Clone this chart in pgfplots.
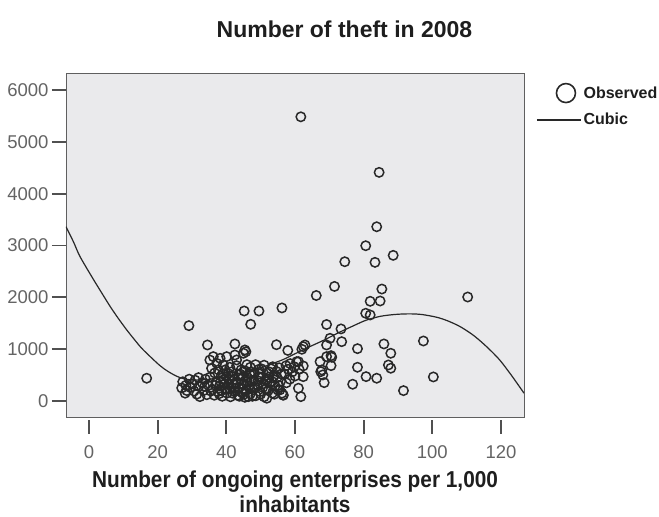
\documentclass[border=0pt]{standalone}
\usepackage{pgfplots}
\pgfplotsset{compat=1.18}
\usepackage{fontspec}
\setmainfont{Liberation Sans}
\newfontfamily\narrowsans[FakeStretch=0.905]{Liberation Sans}

\definecolor{bgc}{RGB}{234,234,236}
\definecolor{framec}{RGB}{95,95,95}
\definecolor{tickc}{RGB}{80,80,80}
\definecolor{labc}{RGB}{100,100,100}
\definecolor{markc}{RGB}{40,40,40}
\definecolor{txtc}{RGB}{30,30,30}

% observed values (enterprises per 1,000 inhabitants, thefts)
\pgfplotstableread{
x y
61.7 5484
84.5 4412
83.8 3362
80.6 2996
88.6 2810
74.5 2687
83.3 2675
71.5 2210
85.3 2160
66.2 2035
110.3 2006
81.9 1923
84.8 1929
56.2 1795
80.6 1692
81.9 1659
69.2 1475
73.4 1390
70.2 1209
73.6 1144
62.9 1080
62.4 1048
62.0 997
67.3 758
70.5 874
70.7 843
70.5 681
62.4 675
62.4 469
67.5 565
68.1 502
68.5 353
61.0 245
61.7 83
78.2 1009
78.2 650
76.8 322
80.7 469
83.8 438
85.9 1100
87.9 920
87.2 694
87.9 631
91.6 199
97.4 1157
100.3 463
69.2 855
69.2 1080
67.8 598
61.0 758
16.8 438
29.1 1453
34.5 1080
42.5 1100
45.4 984
45.7 950
45.2 1736
49.5 1736
47.1 1479
54.6 1085
57.9 975
27.3 370
27.0 250
28.2 300
28.5 200
28.0 150
29.2 420
29.5 260
30.1 330
30.6 190
30.9 400
31.4 130
31.9 450
32.3 83
32.0 280
33.0 350
33.4 200
33.9 420
34.3 120
34.8 300
35.3 460
35.2 790
35.7 630
36.2 855
36.6 540
37.2 727
37.7 598
38.2 823
38.5 480
39.1 694
39.6 598
40.1 855
40.5 530
41.0 650
42.5 887
43.0 791
45.0 920
44.3 600
46.0 700
36.0 220
36.5 110
37.0 370
37.5 180
38.0 290
38.8 90
39.2 410
39.7 240
40.2 150
40.7 340
41.2 80
41.6 260
42.0 470
42.4 180
42.9 360
43.3 110
43.7 250
44.1 420
44.6 160
45.0 320
45.4 70
45.8 210
46.2 450
46.6 290
47.0 140
47.4 380
47.8 220
48.2 540
48.6 100
49.0 310
49.4 460
49.8 180
50.2 620
50.6 260
51.0 80
51.4 400
51.8 540
52.2 200
52.6 340
53.0 620
53.4 150
53.8 470
54.2 290
54.6 570
55.0 210
55.4 640
55.8 380
56.2 150
56.6 110
55.6 212
56.5 116
46.4 83
51.8 52
57.0 520
57.4 680
58.0 610
58.6 720
59.2 560
59.8 660
60.5 758
61.2 610
60.0 480
58.5 420
57.5 350
44.0 520
45.5 580
47.0 650
48.5 700
49.5 610
51.0 690
52.5 560
53.5 660
43.0 680
41.5 560
40.0 470
39.0 520
46.8 520
50.0 460
48.0 400
44.8 230
42.2 320
38.6 200
36.8 300
38.3 380
39.5 330
40.8 420
41.8 150
42.7 250
43.5 500
44.4 330
45.2 130
46.0 380
46.9 240
47.6 90
48.4 260
49.2 390
50.0 130
50.8 330
51.6 230
52.4 460
53.2 380
54.0 130
54.8 450
55.3 300
56.0 520
44.9 470
47.2 560
49.7 520
52.0 420
43.8 90
41.0 230
37.9 140
35.5 190
33.7 280
}\observed

% cubic fit
\pgfplotstableread{
x y
-6.7 3363
-4.5 3067
-2.6 2784
1.25 2350
3.5 2107
6.1 1830
8.5 1596
11 1370
13 1203
15.3 1020
18 845
20.7 680
23 570
25.5 478
27.5 430
30 405
33 408
36 428
40 470
45 550
50 640
53 710
56.6 800
60 910
63.4 1020
68.3 1170
73.1 1330
77 1450
80 1540
82 1585
85 1635
88 1662
91 1677
94 1680
97 1668
101.3 1615
104.5 1545
108.1 1434
112 1265
115.8 1048
119.5 800
122.6 534
124.8 330
126.7 150
}\cubic

\begin{document}
\begin{tikzpicture}
\begin{axis}[
    width=458pt, height=344pt, scale only axis,
    xmin=-6.7, xmax=126.7, ymin=-310, ymax=6330,
    xtick={0,20,...,120}, ytick={0,1000,...,6000},
    tick pos=left,
    axis background/.style={fill=bgc},
    axis line style={draw=framec, line width=0.9pt},
    tick align=outside, major tick length=14pt,
    tick style={draw=tickc, line width=1.8pt},
    xtick style={yshift=-3pt},
    ticklabel style={font=\fontsize{18.5}{20}\selectfont, text=labc},
    xticklabel style={yshift=-11pt},
    /pgf/number format/assume math mode=true,
    scaled ticks=false,
    /pgf/number format/set thousands separator={},
    title={Number of theft in 2008},
    title style={font=\bfseries\fontsize{23}{26}\selectfont, text=txtc,
        at={(0.608,1)}, anchor=center, yshift=38pt},
    xlabel={Number of ongoing enterprises per 1,000\\inhabitants},
    xlabel style={align=center, font=\narrowsans\bfseries\fontsize{23}{25}\selectfont,
        text=txtc, at={(0.5,0)}, anchor=north, yshift=-50pt},
    legend style={draw=none, fill=none, at={(1.02,0.978)}, anchor=north west,
        font=\bfseries\fontsize{16}{18}\selectfont, text=txtc, row sep=8pt},
    legend cell align=left,
]
\addplot[only marks, mark=o, mark size=4.7pt,
    mark options={line width=1.5pt, draw=markc},
    legend image code/.code={\draw[line width=1.6pt, draw=markc] (29pt,0pt) circle (9.5pt);}]
    table[x=x, y=y] {\observed};
\addlegendentry{Observed}
\addplot[smooth, no marks, line width=1.2pt, draw=markc,
    legend image code/.code={\draw[line width=1.2pt, draw=markc] (0pt,0pt) -- (44pt,0pt);}]
    table[x=x, y=y] {\cubic};
\addlegendentry{Cubic}
\end{axis}
\pgfresetboundingbox
\path[use as bounding box] ([xshift=-66pt,yshift=-100pt]current axis.south west)
    rectangle ([xshift=135pt,yshift=73pt]current axis.north east);
\end{tikzpicture}
\end{document}
